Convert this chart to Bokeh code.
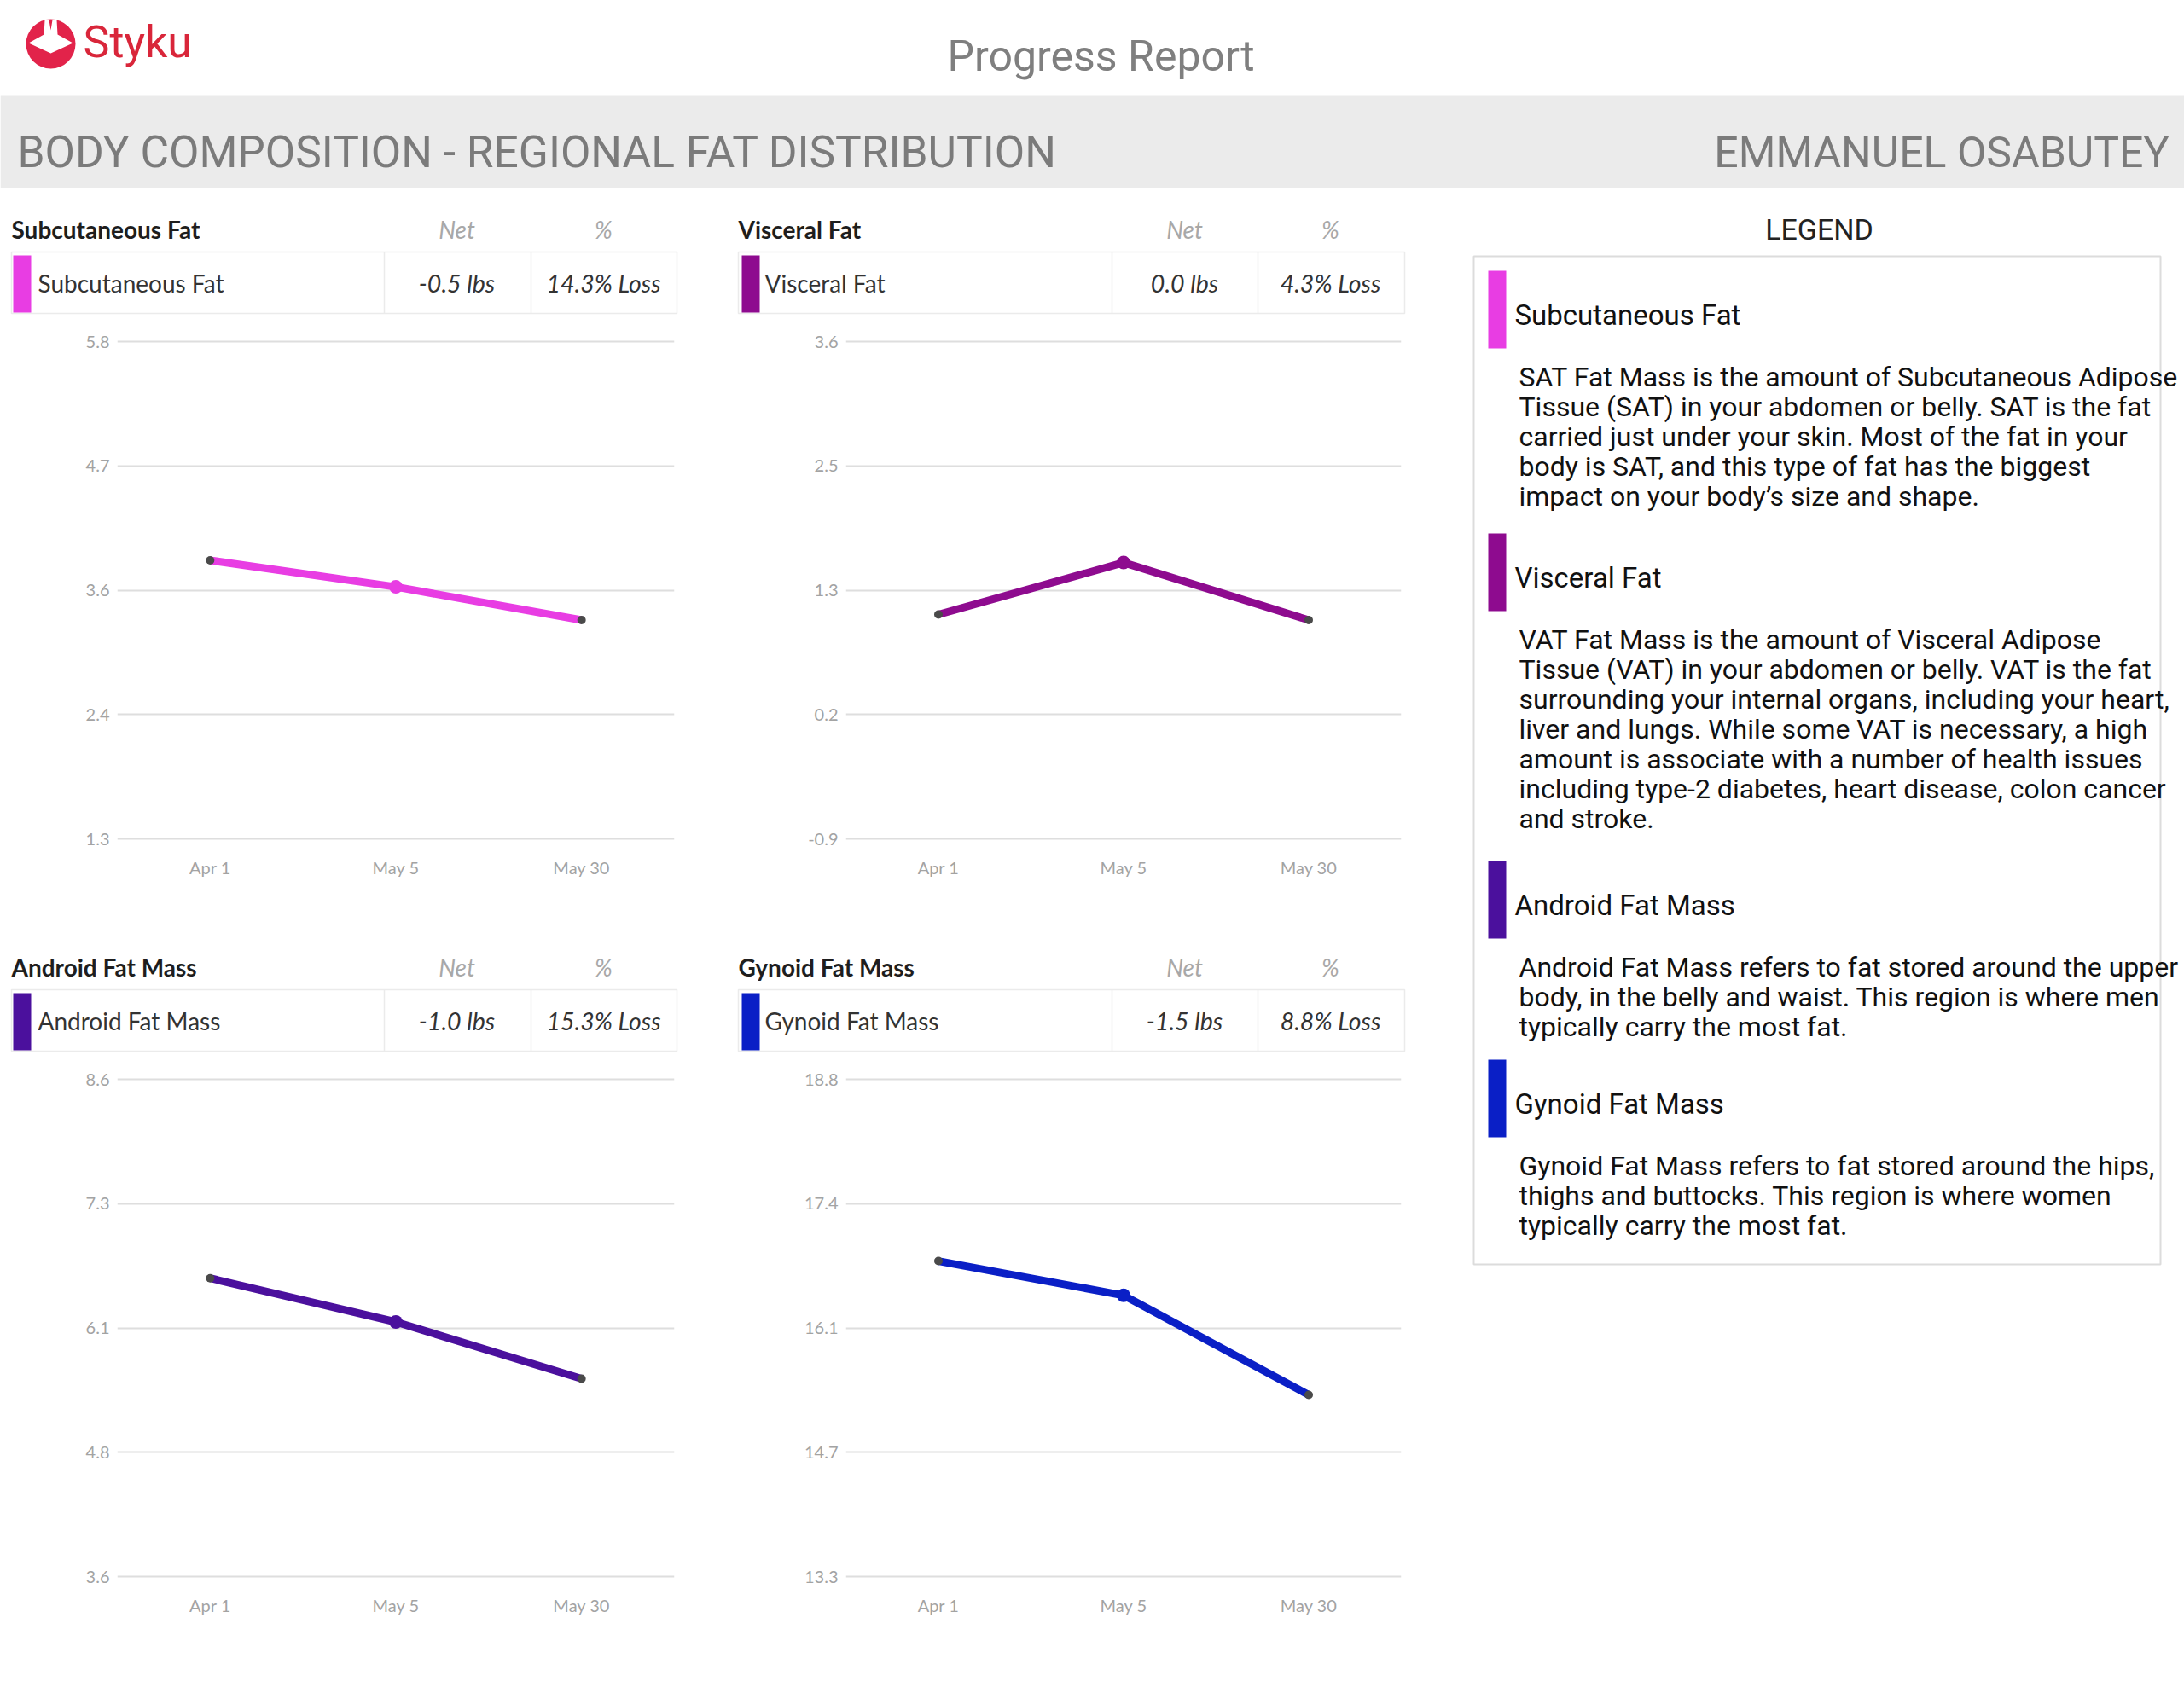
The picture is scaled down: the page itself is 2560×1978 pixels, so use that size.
import numpy as np
from bokeh.plotting import figure
from bokeh.layouts import column, row
from bokeh.models import Range1d, FactorRange, FixedTicker
from bokeh.core.properties import value
from bokeh.embed import file_html
from bokeh.resources import INLINE

# ---------------- data ----------------
dates = ["Apr 1", "May 5", "May 30"]

names = ["Subcutaneous Fat", "Visceral Fat", "Android Fat Mass", "Gynoid Fat Mass"]
colors = ["#e83de3", "#8e0b8f", "#4b109d", "#0a1fc6"]

sat_values = [3.82, 3.58, 3.28]
vat_values = [1.13, 1.60, 1.08]
android_values = [6.60, 6.16, 5.59]
gynoid_values = [16.79, 16.41, 15.31]

sat_range = [1.3, 5.8]
vat_range = [-0.9, 3.6]
android_range = [3.6, 8.6]
gynoid_range = [13.3, 18.8]

# tick labels, bottom to top
sat_ticks = ["1.3", "2.4", "3.6", "4.7", "5.8"]
vat_ticks = ["-0.9", "0.2", "1.3", "2.5", "3.6"]
android_ticks = ["3.6", "4.8", "6.1", "7.3", "8.6"]
gynoid_ticks = ["13.3", "14.7", "16.1", "17.4", "18.8"]

net_labels = ["-0.5 lbs", "0.0 lbs", "-1.0 lbs", "-1.5 lbs"]
pct_labels = ["14.3% Loss", "4.3% Loss", "15.3% Loss", "8.8% Loss"]

sat_text = ["SAT Fat Mass is the amount of Subcutaneous Adipose",
            "Tissue (SAT) in your abdomen or belly. SAT is the fat",
            "carried just under your skin. Most of the fat in your",
            "body is SAT, and this type of fat has the biggest",
            "impact on your body\u2019s size and shape."]
vat_text = ["VAT Fat Mass is the amount of Visceral Adipose",
            "Tissue (VAT) in your abdomen or belly. VAT is the fat",
            "surrounding your internal organs, including your heart,",
            "liver and lungs. While some VAT is necessary, a high",
            "amount is associate with a number of health issues",
            "including type-2 diabetes, heart disease, colon cancer",
            "and stroke."]
android_text = ["Android Fat Mass refers to fat stored around the upper",
                "body, in the belly and waist. This region is where men",
                "typically carry the most fat."]
gynoid_text = ["Gynoid Fat Mass refers to fat stored around the hips,",
               "thighs and buttocks. This region is where women",
               "typically carry the most fat."]

# ---------------- helpers ----------------
def canvas(w, h):
    p = figure(width=w, height=h, x_range=Range1d(0, w), y_range=Range1d(h, 0),
               output_backend="svg", toolbar_location=None,
               x_axis_type=None, y_axis_type=None, min_border=0)
    p.frame_align = False
    p.outline_line_color = None
    p.background_fill_color = "white"
    p.border_fill_color = "white"
    return p


def txt(p, x, y, s, size, color="#333333", font="Lato", align="left",
        style="normal", baseline="middle"):
    p.text(x=[x], y=[y], text=[s], text_font=value(font),
           text_font_size=f"{size}px", text_color=color, text_align=align,
           text_baseline=baseline, text_font_style=style)


def table(w, name, color, net, pct, x0, bar0, lab0, div1, div2, netc, pctc, x1):
    p = canvas(w, 140)
    txt(p, x0, 28, name, 28, "#1e1e1e", style="bold")
    txt(p, netc, 28, "Net", 28, "#a8a8a8", align="center", style="italic")
    txt(p, pctc, 28, "%", 28, "#a8a8a8", align="center", style="italic")
    p.quad(left=[x0], right=[x1], top=[55], bottom=[127], fill_color=None,
           line_color="#ebebeb", line_width=1.5)
    p.segment(x0=[div1, div2], y0=[55, 55], x1=[div1, div2], y1=[127, 127],
              line_color="#ebebeb", line_width=1.5)
    p.quad(left=[bar0], right=[bar0 + 21], top=[59], bottom=[126],
           fill_color=color, line_color=None)
    txt(p, lab0, 91, name, 28, "#333333")
    txt(p, netc, 91, net, 28.5, "#333333", align="center", style="italic")
    txt(p, pctc, 91, pct, 28.5, "#333333", align="center", style="italic")
    return p


def chart(vals, rng, tick_labels, color, w, h, ml, mr, mb):
    lo, hi = rng
    pad = (hi - lo) * 3.0 / 583.0
    p = figure(width=w, height=h, x_range=FactorRange(*dates),
               y_range=Range1d(lo - pad, hi + pad), output_backend="svg",
               toolbar_location=None, min_border_left=ml, min_border_right=mr,
               min_border_top=17, min_border_bottom=mb)
    p.frame_align = False
    ticks = [float(t) for t in np.linspace(lo, hi, len(tick_labels))]
    p.yaxis.ticker = FixedTicker(ticks=ticks)
    p.yaxis.major_label_overrides = {t: lab for t, lab in zip(ticks, tick_labels)}
    p.axis.axis_line_color = None
    p.axis.major_tick_line_color = None
    p.axis.minor_tick_line_color = None
    p.axis.major_tick_out = 0
    p.axis.major_tick_in = 0
    p.axis.major_label_text_font = "Lato"
    p.axis.major_label_text_color = "#a3a3a3"
    p.yaxis.major_label_text_font_size = "20px"
    p.xaxis.major_label_text_font_size = "20px"
    p.yaxis.major_label_standoff = 9
    p.xaxis.major_label_standoff = 18
    p.xgrid.visible = False
    p.ygrid.grid_line_color = "#dedede"
    p.ygrid.grid_line_width = 2
    p.outline_line_color = None
    p.background_fill_color = "white"
    p.border_fill_color = "white"
    p.line(dates, vals, line_width=9, line_color=color)
    p.scatter([dates[0], dates[2]], [vals[0], vals[2]], size=10,
              fill_color="#4a4a4a", line_color=None)
    p.scatter([dates[1]], [vals[1]], size=16, fill_color=color, line_color=None)
    return p

# ---------------- header ----------------
W = 2560
header = canvas(W, 240)
header.circle(x=[59], y=[51], radius=29, fill_color="#e2234a", line_color=None)
header.patch(x=[33, 51, 52, 57, 59, 61, 66, 67, 85, 59],
             y=[50, 40, 23, 23, 35, 23, 23, 40, 50, 62],
             fill_color="white", line_color=None)
txt(header, 97, 49, "Styku", 52, "#d9263a", font="Roboto")
txt(header, 1290, 65, "Progress Report", 50, "#7f7f7f", font="Roboto", align="center")
header.quad(left=[0], right=[W], top=[111], bottom=[220], fill_color="#ebebeb",
            line_color=None)
txt(header, 20, 178, "BODY COMPOSITION - REGIONAL FAT DISTRIBUTION", 51.5, "#7b7b7b",
    font="Roboto")
txt(header, 2542, 178, "EMMANUEL OSABUTEY", 50, "#7b7b7b", font="Roboto", align="right")

# ---------------- panels ----------------
LW, MW = 850, 850
tl_table = table(LW, names[0], colors[0], net_labels[0], pct_labels[0],
                 13, 15, 44, 450, 622, 535, 707, 793)
tr_table = table(MW, names[1], colors[1], net_labels[1], pct_labels[1],
                 15, 19, 46, 453, 624, 538, 709, 796)
bl_table = table(LW, names[2], colors[2], net_labels[2], pct_labels[2],
                 13, 15, 44, 450, 622, 535, 707, 793)
br_table = table(MW, names[3], colors[3], net_labels[3], pct_labels[3],
                 15, 19, 46, 453, 624, 538, 709, 796)

tl_chart = chart(sat_values, sat_range, sat_ticks, colors[0], LW, 725, 137, 60, 119)
tr_chart = chart(vat_values, vat_range, vat_ticks, colors[1], MW, 725, 141, 58, 119)
bl_chart = chart(android_values, android_range, android_ticks, colors[2], LW, 655, 137, 60, 49)
br_chart = chart(gynoid_values, gynoid_range, gynoid_ticks, colors[3], MW, 655, 141, 58, 49)

# ---------------- legend ----------------
LGW, LGH = 860, 1660
legend = canvas(LGW, LGH)
txt(legend, 432, 28, "LEGEND", 34, "#222222", font="Roboto", align="center")
legend.quad(left=[27], right=[832], top=[60], bottom=[1242], fill_color=None,
            line_color="#dcdcdc", line_width=2)
entries = [(names[0], colors[0], sat_text, 77),
           (names[1], colors[1], vat_text, 385),
           (names[2], colors[2], android_text, 769),
           (names[3], colors[3], gynoid_text, 1002)]
for name, color, lines, top in entries:
    legend.quad(left=[44], right=[65], top=[top], bottom=[top + 91],
                fill_color=color, line_color=None)
    txt(legend, 75, top + 52, name, 33, "#111111", font="Roboto")
    legend.text(x=[80] * len(lines), y=[top + 124 + 35 * i for i in range(len(lines))],
                text=lines, text_font=value("Roboto"), text_font_size="32px",
                text_color="#111111", text_baseline="middle")

layout = column(header,
                row(column(tl_table, tl_chart, bl_table, bl_chart),
                    column(tr_table, tr_chart, br_table, br_chart),
                    legend))

open("out.html", "w").write(file_html(layout, INLINE))
